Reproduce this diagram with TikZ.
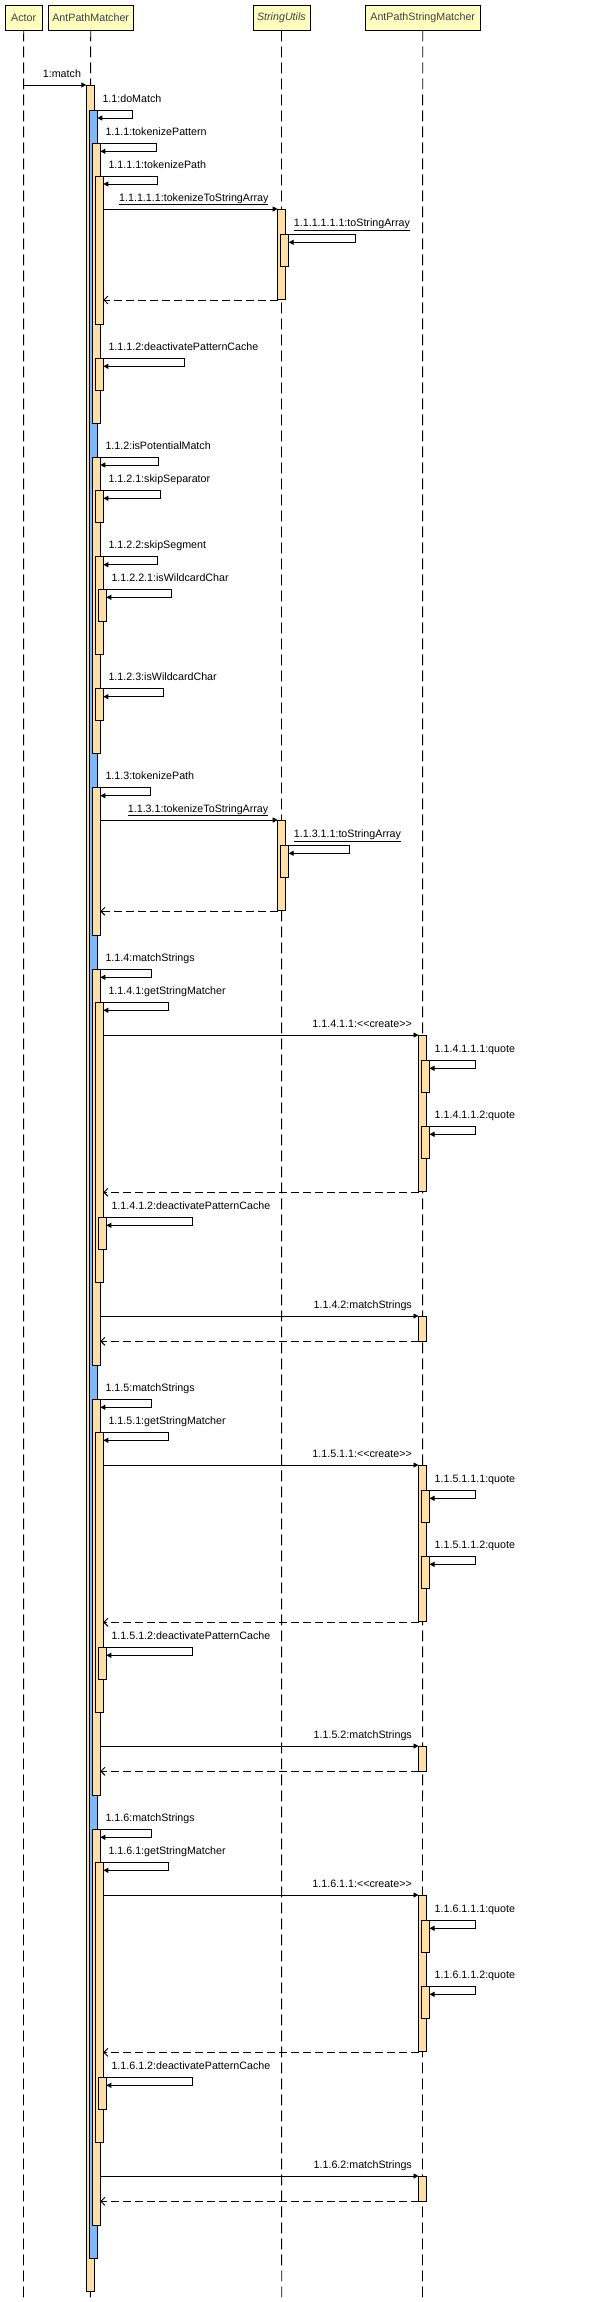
\documentclass[tikz,border=0pt]{standalone}
\usepackage{fontspec}
\setmainfont{Liberation Sans}
\usetikzlibrary{arrows.meta}
\definecolor{actor}{HTML}{FFFFC0}
\definecolor{act}{HTML}{FFDFA6}
\definecolor{blu}{HTML}{80B8F8}
\tikzset{
  hdr/.style={draw=black,fill=actor,line width=0.9pt,inner sep=0pt,minimum height=24.5pt,font=\fontsize{10.7}{12}\selectfont,text=black!75},
  life/.style={line width=0.9pt,dash pattern=on 11pt off 5pt},
  ac/.style={draw=black,fill=act,line width=0.9pt},
  ab/.style={draw=black,fill=blu,line width=0.9pt},
  msg/.style={line width=0.9pt,-{Triangle[length=5pt,width=5pt]}},
  ret/.style={line width=0.9pt,dash pattern=on 8pt off 4pt,-{Straight Barb[length=4pt,width=8pt]}},
  lbl/.style={anchor=base west,inner sep=0pt,font=\fontsize{10.7}{12}\selectfont},
}
\newcommand\actv[5]{\filldraw[#1] (#2,#4) rectangle (#3,#5);}
\newcommand\selfc[5]{\draw[msg] (#1,#2) -| ({#3},{#2+8}) -- ({#4},{#2+8});
  \node[lbl] at ({#1+8},{#2-8}) {#5};}
\begin{document}
\begin{tikzpicture}[x=1pt,y=-1pt]
\useasboundingbox (0,0) rectangle (600,2302);
% headers
\node[hdr,minimum width=36.5pt,anchor=north west] (actor) at (5,5) {Actor};
\node[hdr,minimum width=85.5pt,anchor=north west] (apm) at (47.5,5) {AntPathMatcher};
\node[hdr,minimum width=57pt,anchor=north west] (su) at (252.5,5) {\itshape StringUtils};
\node[hdr,minimum width=114.5pt,anchor=north west] (apsm) at (365,5) {AntPathStringMatcher};
\coordinate (actorE) at (23.5,2302);
\coordinate (apmE) at (90.3,2302);
\coordinate (suE) at (281.7,2302);
\coordinate (apsmE) at (422.5,2302);
\draw[life] (actor.south) -- (actorE);
\draw[life] (apm.south) -- (apmE);
\draw[life] (su.south) -- (suE);
\draw[life] (apsm.south) -- (apsmE);
% activations
\actv{ac}{86.3}{94.3}{85}{2291.3}
\actv{ab}{89.3}{97.3}{110}{2258}
\actv{ac}{92.3}{100.3}{143.3}{423.3}
\actv{ac}{92.3}{100.3}{457}{753.3}
\actv{ac}{92.3}{100.3}{787.7}{935}
\actv{ac}{95.3}{103.3}{176}{324}
\actv{ac}{95.3}{103.3}{358.3}{390.3}
\actv{ac}{95.3}{103.3}{490.3}{522.3}
\actv{ac}{95.3}{103.3}{556.7}{654}
\actv{ac}{98.3}{106.3}{589.3}{621.3}
\actv{ac}{95.3}{103.3}{688.7}{720}
\actv{ac}{277.7}{285.7}{209}{299.3}
\actv{ac}{280.7}{288.7}{234.3}{266.3}
\actv{ac}{277.7}{285.7}{820}{910.3}
\actv{ac}{280.7}{288.7}{845.3}{877}
\foreach \o in {0,430,860}{
  \actv{ac}{92.3}{100.3}{969.3+\o}{1365+\o}
  \actv{ac}{95.3}{103.3}{1002.3+\o}{1282.3+\o}
  \actv{ac}{98.3}{106.3}{1217.3+\o}{1249.3+\o}
  \actv{ac}{418.5}{426.5}{1035+\o}{1191+\o}
  \actv{ac}{421.5}{429.5}{1060.3+\o}{1092+\o}
  \actv{ac}{421.5}{429.5}{1126.3+\o}{1158.3+\o}
  \actv{ac}{418.5}{426.5}{1316+\o}{1341+\o}
}
% messages
\draw[msg] (23.5,85) -- (86.3,85);
\node[lbl] (m1) at (42.7,77) {1:match};
\selfc{94.3}{110}{132.7}{97.3}{1.1:doMatch}
\selfc{97.3}{143.3}{156.7}{100.3}{1.1.1:tokenizePattern}
\selfc{100.3}{176}{157.3}{103.3}{1.1.1.1:tokenizePath}
\draw[msg] (103.3,209) -- (277.7,209);
\node[lbl] at (119,201) {\underline{1.1.1.1.1:tokenizeToStringArray}};
\selfc{285.7}{234.3}{355}{288.7}{\underline{1.1.1.1.1.1:toStringArray}}
\draw[ret] (277.7,300) -- (103.3,300);
\selfc{100.3}{358.3}{184.3}{103.3}{1.1.1.2:deactivatePatternCache}
\selfc{97.3}{457}{158.3}{100.3}{1.1.2:isPotentialMatch}
\selfc{100.3}{490.3}{160.7}{103.3}{1.1.2.1:skipSeparator}
\selfc{100.3}{556.7}{157.3}{103.3}{1.1.2.2:skipSegment}
\selfc{103.3}{589.3}{171.3}{106.3}{1.1.2.2.1:isWildcardChar}
\selfc{100.3}{688.7}{163.3}{103.3}{1.1.2.3:isWildcardChar}
\selfc{97.3}{787.7}{150.7}{100.3}{1.1.3:tokenizePath}
\draw[msg] (100.3,820) -- (277.7,820);
\node[lbl] at (127.7,812) {\underline{1.1.3.1:tokenizeToStringArray}};
\selfc{285.7}{845.3}{349.7}{288.7}{\underline{1.1.3.1.1:toStringArray}}
\draw[ret] (277.7,911.3) -- (100.3,911.3);
\foreach \o/\n in {0/4,430/5,860/6}{
  \selfc{97.3}{969.3+\o}{151.7}{100.3}{1.1.\n:matchStrings}
  \selfc{100.3}{1002.3+\o}{168.3}{103.3}{1.1.\n.1:getStringMatcher}
  \draw[msg] (103.3,1035+\o) -- (418.5,1035+\o);
  \node[lbl,anchor=base east] at (412,1027+\o) {1.1.\n.1.1:{<}{<}create{>}{>}};
  \selfc{426.5}{1060.3+\o}{475.7}{429.5}{1.1.\n.1.1.1:quote}
  \selfc{426.5}{1126.3+\o}{475.7}{429.5}{1.1.\n.1.1.2:quote}
  \draw[ret] (418.5,1192.3+\o) -- (103.3,1192.3+\o);
  \selfc{103.3}{1217.3+\o}{192.7}{106.3}{1.1.\n.1.2:deactivatePatternCache}
  \draw[msg] (100.3,1316+\o) -- (418.5,1316+\o);
  \node[lbl,anchor=base east] at (412,1308+\o) {1.1.\n.2:matchStrings};
  \draw[ret] (418.5,1341.3+\o) -- (100.3,1341.3+\o);
}
\end{tikzpicture}
\end{document}
